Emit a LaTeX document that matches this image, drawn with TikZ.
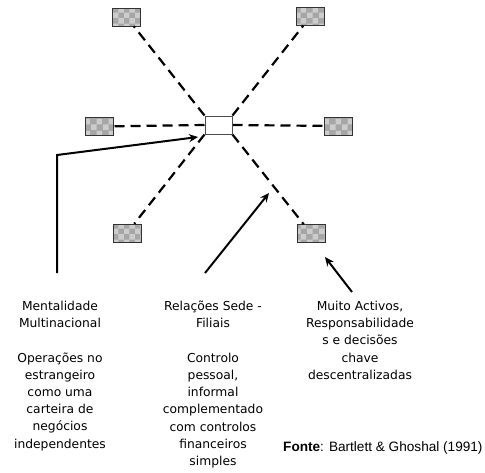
\documentclass[tikz,border=0pt]{standalone}
\usepackage{fontspec}
\setmainfont{DejaVu Sans}
\newfontfamily\arialfont{Liberation Sans}
\usetikzlibrary{patterns,arrows.meta}
\tikzset{
  unit/.style={fill=gray!70,
    minimum width=28pt, minimum height=18pt, inner sep=0pt,
    postaction={pattern=checkerboard, pattern color=gray!40},
    postaction={draw=black!80, line width=0.9pt}},
  hub/.style={draw=gray!60!black, line width=1pt, fill=white,
    minimum width=27pt, minimum height=18pt, inner sep=0pt},
  link/.style={line width=2.2pt, dash pattern=on 10pt off 6pt},
  pointer/.style={line width=2pt, -{Stealth[length=9pt,width=8pt]}},
  caption/.style={align=center, inner sep=0pt, anchor=north,
    font=\fontsize{12.3}{17.2}\selectfont}
}
\begin{document}
\begin{tikzpicture}[x=1pt,y=-1pt]
\useasboundingbox (0,0) rectangle (485,472);

% headquarters and subsidiaries
\node[hub]  (c)  at (218.5,125) {};
\node[unit] (tl) at (126.5,17)  {};
\node[unit] (tr) at (310.5,16.5){};
\node[unit] (l)  at (99,126.5)  {};
\node[unit] (r)  at (338,126)   {};
\node[unit] (bl) at (127,233)   {};
\node[unit] (br) at (311,233.5) {};

% dashed links from the centre
\draw[link] (c.north west) -- (tl);
\draw[link] (c.north east) -- (tr);
\draw[link] (c.west) -- (l);
\draw[link] (c.east) -- (r);
\draw[link] (c.south west) -- (bl);
\draw[link] (c.south east) -- (br);
\node[hub] at (c) {};

% arrow end points
\coordinate (a1s) at (57,273);
\coordinate (a1k) at (57,155);
\coordinate (a1e) at (198,137);
\coordinate (a2s) at (205,273);
\coordinate (a2e) at (269,193);
\coordinate (a3s) at (352,292);
\coordinate (a3e) at (325,257);

\draw[pointer] (a1s) -- (a1k) -- (a1e);
\draw[pointer] (a2s) -- (a2e);
\draw[pointer] (a3s) -- (a3e);

% descriptions
\node[caption] (t1) at (60,301) {Mentalidade\\Multinacional\\[17.2pt]
  Operações no\\estrangeiro\\como uma\\carteira de\\negócios\\independentes};
\node[caption] (t2) at (213,301) {Relações Sede -\\Filiais\\[17.2pt]
  Controlo\\pessoal,\\informal\\complementado\\com controlos\\financeiros\\simples};
\node[caption] (t3) at (360,301) {Muito Activos,\\Responsabilidade\\s e decisões\\chave\\descentralizadas};

\node[anchor=base west, inner sep=0pt, font=\arialfont\fontsize{13.6}{15}\selectfont]
  (src) at (283,451) {\textbf{Fonte}: Bartlett \& Ghoshal (1991)};
\end{tikzpicture}
\end{document}
